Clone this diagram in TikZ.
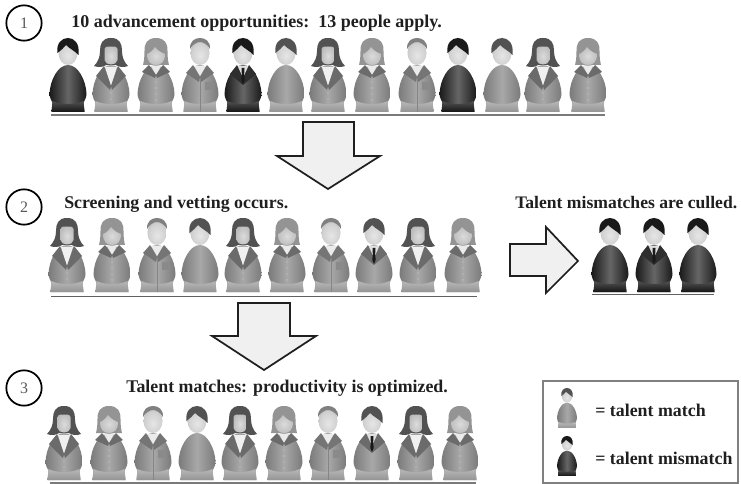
\documentclass[tikz,border=0pt]{standalone}
\usepackage{fontspec}
\setmainfont{Liberation Serif}
\pgfdeclareradialshading{headfill}{\pgfpoint{0bp}{-6bp}}{color(0bp)=(black!10); color(22bp)=(black!18); color(50bp)=(black!44)}
\pgfdeclareradialshading{facefill}{\pgfpoint{0bp}{0bp}}{color(0bp)=(black!14); color(50bp)=(black!36)}
\newcommand\bodypath{(0,27) .. controls (-10,27) and (-18,42) .. (-18.5,56) .. controls (-18.5,60) and (-16,63) .. (-15.5,65) -- (-16.5,74) -- (16.5,74) -- (15.5,65) .. controls (16,63) and (18.5,60) .. (18.5,56) .. controls (18,42) and (10,27) .. (0,27) -- cycle}
\newcommand\skirtpath{(-15.5,63) .. controls (-8,67) and (8,67) .. (15.5,63) -- (16.5,74) -- (-16.5,74) -- cycle}
\newcommand\tonemid{%
 \colorlet{bEdge}{black!52}\colorlet{bMid}{black!34}\colorlet{sTop}{black!28}\colorlet{sBot}{black!42}%
 \colorlet{hairS}{black!68}\colorlet{lapel}{black!58}}
\newcommand\tonedark{%
 \colorlet{bEdge}{black!90}\colorlet{bMid}{black!60}\colorlet{sTop}{black!68}\colorlet{sBot}{black!92}%
 \colorlet{hairS}{black!90}\colorlet{lapel}{black!82}}
\newcommand\drawbody{%
 \shade[left color=bEdge,right color=bEdge,middle color=bMid] \bodypath;
 \shade[top color=sTop,bottom color=sBot] \skirtpath;}
\newcommand\drawhead{\shade[shading=headfill] (0,15) ellipse [x radius=9.5,y radius=12];}
\newcommand\shorthair{\fill[hairS] (-10.5,15) .. controls (-12,5) and (-6,0) .. (0,0) .. controls (6,0) and (12,5) .. (10.5,17) .. controls (7,13) and (2,11) .. (-2,7) .. controls (-4,10) and (-7,12) .. (-10.5,15) -- cycle;}
\newcommand\kindS{\drawbody\drawhead\shorthair}
\newcommand\kindT{\drawbody
 \fill[black!12] (-6,28) -- (0,40) -- (6,28) -- cycle;
 \fill[lapel] (-6,27) -- (-13,36) -- (0,47) -- (13,36) -- (6,27) -- (1,38) -- (-1,38) -- cycle;
 \fill[black!90] (-1.5,30) -- (1.5,30) -- (1.2,36) -- (1.7,42) -- (0,46) -- (-1.7,42) -- (-1.2,36) -- cycle;
 \drawhead\shorthair}
\newcommand\kindP{\drawbody
 \fill[black!8] (-6,28) -- (0,38) -- (6,28) -- cycle;
 \fill[black!54] (-7,27) -- (-14,35) -- (-1,44) -- (0,39) -- cycle;
 \fill[black!54] (7,27) -- (14,35) -- (1,44) -- (0,39) -- cycle;
 \draw[black!48,line width=.4pt] (0,40) -- (0,74);
 \fill[black!46] (5,44) rectangle (13,52);
 \drawhead
 \fill[black!50] (-10,11) .. controls (-10.5,3) and (-5,0) .. (0,0) .. controls (5,0) and (10.5,3) .. (10,11) .. controls (7,6) and (3,4) .. (0,4) .. controls (-3,4) and (-7,6) .. (-10,11) -- cycle;}
\newcommand\kindW{%
 \fill[black!68] (0,0) .. controls (-9,0) and (-11,6) .. (-11,13) .. controls (-11,19) and (-13,24) .. (-17,28) .. controls (-12,30) and (-8,29) .. (-5,27) -- (5,27) .. controls (8,29) and (12,30) .. (17,28) .. controls (13,24) and (11,19) .. (11,13) .. controls (11,6) and (9,0) .. (0,0) -- cycle;
 \drawbody
 \fill[black!6] (-6,29) -- (0,48) -- (6,29) -- cycle;
 \fill[lapel] (-7,28) -- (-15,38) -- (-1,52) -- (0,48) -- cycle;
 \fill[lapel] (7,28) -- (15,38) -- (1,52) -- (0,48) -- cycle;
 \foreach \by in {55,61}{\fill[black!20] (0,\by) circle (.7);}
 \shade[shading=facefill] (-6.5,11) .. controls (-6.5,9) and (-5,8.5) .. (0,8.5) .. controls (5,8.5) and (6.5,9) .. (6.5,11) -- (6.5,22) .. controls (6,28) and (-6,28) .. (-6.5,22) -- cycle;}
\newcommand\kindL{%
 \fill[black!42] (0,0) .. controls (-9,0) and (-12,6) .. (-11.5,13) .. controls (-11.5,19) and (-12,23) .. (-13,27) -- (13,27) .. controls (12,23) and (11.5,19) .. (11.5,13) .. controls (12,6) and (9,0) .. (0,0) -- cycle;
 \drawbody
 \fill[black!8] (-5,28) -- (0,37) -- (5,28) -- cycle;
 \fill[lapel] (-7,27) -- (-14,34) -- (-1,40) -- (0,37) -- cycle;
 \fill[lapel] (7,27) -- (14,34) -- (1,40) -- (0,37) -- cycle;
 \foreach \by in {44,50,56,62}{\fill[black!18] (0,\by) circle (.6);}
 \shade[shading=facefill] (-9,16) .. controls (-6,15) and (-3,12) .. (-1,9) .. controls (2,13) and (6,15) .. (9,16) .. controls (9,24) and (5,27) .. (0,27) .. controls (-5,27) and (-9,24) .. (-9,16) -- cycle;}
\newcommand\person[4]{\begin{scope}[shift={(#1,#2)}]\csname tone#4\endcsname\csname kind#3\endcsname\end{scope}}
\newcommand\smallperson[4]{\begin{scope}[shift={(#1,#2)},scale=.54]\csname tone#4\endcsname\csname kind#3\endcsname\end{scope}}
\tikzset{
 blockarrow/.style={draw=black!88,fill=black!6,line width=1.3pt,line join=miter},
 numcircle/.style={circle,draw=black,line width=1.3pt,minimum size=26.5pt,inner sep=0pt,font=\fontsize{12}{12}\selectfont,text=black!65},
 headline/.style={anchor=base west,inner sep=0pt,font=\fontsize{13.4}{15}\selectfont\bfseries,text=black!88},
 legendtext/.style={anchor=base west,inner sep=0pt,font=\fontsize{13.4}{15}\selectfont\bfseries,text=black!88},
 rowrule/.style={black!52,line width=1.5pt},
 rowthin/.style={black!62,line width=1.1pt},
}
\begin{document}
\begin{tikzpicture}[x=.75pt,y=-.75pt]
\useasboundingbox (0,0) rectangle (741,484);
\fill[white] (0,0) rectangle (741,484);
% step markers
\node[numcircle] (n1) at (24,23) {1};
\node[numcircle] (n2) at (24,207) {2};
\node[numcircle] (n3) at (24,388) {3};
% headlines
\node[headline,font=\fontsize{13.5}{15}\selectfont\bfseries] (t1) at (71,28) {10 advancement opportunities:\ \ 13 people apply.};
\node[headline] (t2) at (64,209) {Screening and vetting occurs.};
\node[headline,font=\fontsize{13.2}{15}\selectfont\bfseries] (t3) at (515,209) {Talent mismatches are culled.};
\node[headline] (t4) at (126,392) {Talent matches: productivity is optimized.};
% row 1
\person{68}{38}{S}{dark}\person{111}{38}{W}{mid}\person{156}{38}{L}{mid}\person{200}{38}{P}{mid}
\person{243}{38}{T}{dark}\person{286}{38}{S}{mid}\person{328}{38}{W}{mid}\person{372}{38}{L}{mid}
\person{417}{38}{P}{mid}\person{458}{38}{S}{dark}\person{502}{38}{S}{mid}\person{543}{38}{W}{mid}\person{588}{38}{L}{mid}
\draw[rowrule] (51,115.5) -- (605,115.5);
% row 2
\person{67}{218}{W}{mid}\person{112}{218}{L}{mid}\person{157}{218}{P}{mid}\person{200}{218}{S}{mid}
\person{243}{218}{W}{mid}\person{287}{218}{L}{mid}\person{331}{218}{P}{mid}\person{374}{218}{T}{mid}
\person{418}{218}{W}{mid}\person{463}{218}{L}{mid}
\draw[rowthin] (51,296.5) -- (477,296.5);
% culled
\person{610}{218}{S}{dark}\person{654}{218}{T}{dark}\person{698}{218}{S}{dark}
\draw[rowthin] (592,294.5) -- (714,294.5);
% row 3
\person{64}{406}{W}{mid}\person{109}{406}{L}{mid}\person{153}{406}{P}{mid}\person{197}{406}{S}{mid}
\person{240}{406}{W}{mid}\person{284}{406}{L}{mid}\person{328}{406}{P}{mid}\person{372}{406}{T}{mid}
\person{416}{406}{W}{mid}\person{460}{406}{L}{mid}
\draw[rowrule] (50,482.5) -- (476,482.5);
% block arrows
\draw[blockarrow] (303,122) -- (354,122) -- (354,156) -- (380,156) -- (328,189) -- (277,156) -- (303,156) -- cycle;
\draw[blockarrow] (238,303) -- (290,303) -- (290,336) -- (316,336) -- (264,370) -- (212,336) -- (238,336) -- cycle;
\draw[blockarrow] (510,244) -- (546,244) -- (546,227) -- (578,261) -- (546,293) -- (546,276) -- (510,276) -- cycle;
% legend
\draw[black!50,line width=1.2pt] (543,381) rectangle (738,483);
\smallperson{567}{388}{S}{mid}
\smallperson{567}{436}{S}{dark}
\node[legendtext] (l1) at (595,416) {= talent match};
\node[legendtext] (l2) at (595,464) {= talent mismatch};
\end{tikzpicture}
\end{document}
